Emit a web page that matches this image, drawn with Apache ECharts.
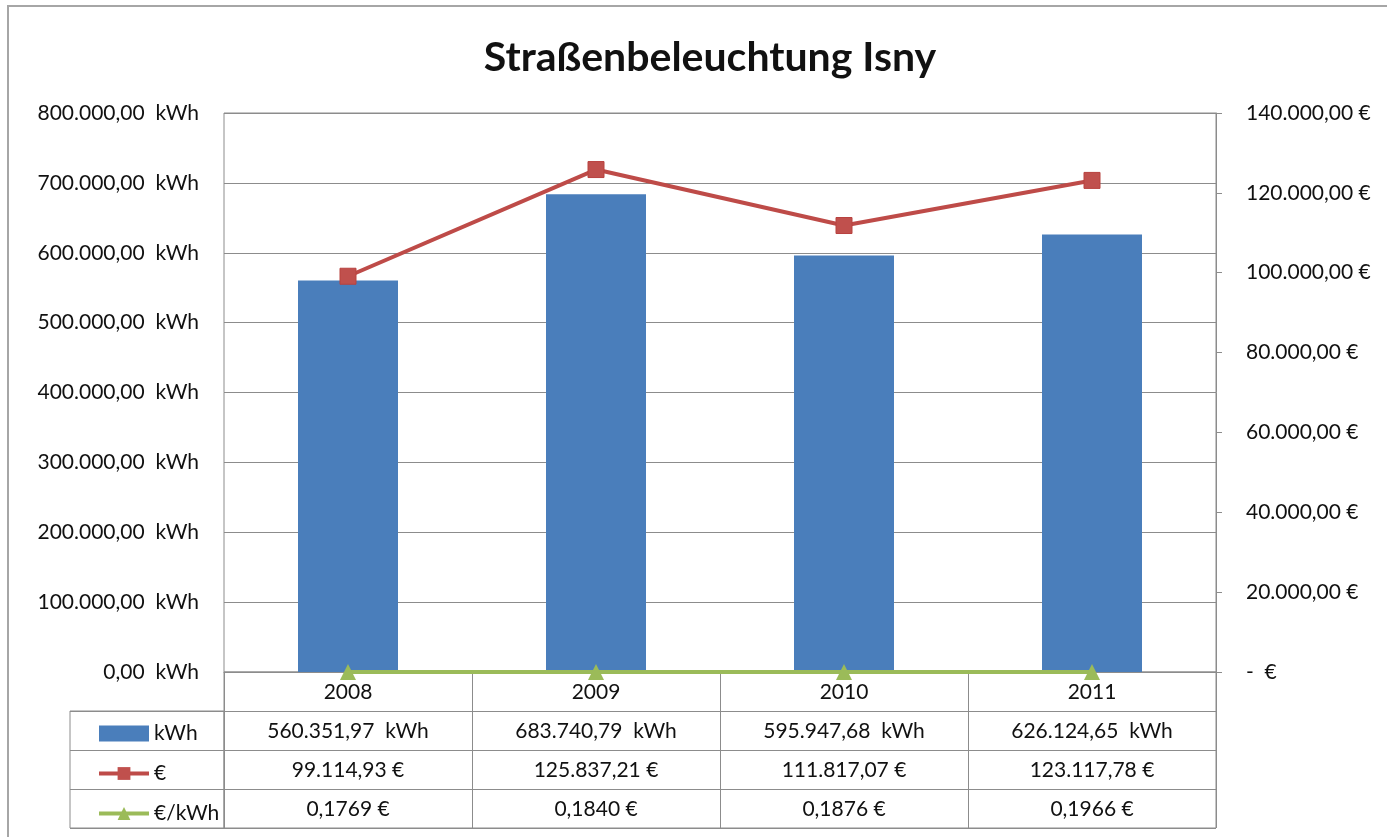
<!DOCTYPE html>
<html>
<head>
<meta charset="utf-8">
<title>Straßenbeleuchtung Isny</title>
<script src="https://cdn.jsdelivr.net/npm/echarts@6/dist/echarts.min.js"></script>
<style>
  html, body { margin: 0; padding: 0; background: #fff; }
  #chart { width: 1387px; height: 837px; }
</style>
</head>
<body>
<div id="chart"></div>
<script>
// data
const years = ['2008', '2009', '2010', '2011'];
const kwh = [560351.97, 683740.79, 595947.68, 626124.65];
const euro = [99114.93, 125837.21, 111817.07, 123117.78];
const euroPerKwh = [0.1769, 0.1840, 0.1876, 0.1966];
const tableRows = ['Jahr', 'kWh', '€', '€/kWh'];

// colors / fonts
const FONT = 'Lato';
const FS = 21;
const TXT = '#111';
const LINE = '#8c8c8c';

// german number format: 1.234,56
const fmtDe = (v, d) => {
    const parts = Math.abs(v).toFixed(d).split('.');
    const int = parts[0].replace(/\B(?=(\d{3})+(?!\d))/g, '.');
    return (v < 0 ? '-' : '') + int + (d > 0 ? ',' + parts[1] : '');
};

const chart = echarts.init(document.getElementById('chart'));

// one row of the data table, text drawn in the middle of each cell
const cellSeries = (name, values, fmt) => ({
    type: 'scatter',
    xAxisIndex: 1,
    yAxisIndex: 2,
    symbolSize: 0,
    silent: true,
    itemStyle: { color: '#fff', opacity: 1 },
    label: {
        show: true,
        position: 'inside',
        offset: [0, 0.5],
        color: TXT,
        opacity: 1,
        textBorderWidth: 0,
        fontSize: FS,
        fontFamily: FONT,
        formatter: p => fmt(p.value[2]),
    },
    emphasis: { disabled: true },
    data: values.map((v, i) => [i, name, v]),
});

chart.setOption({
    animation: false,
    textStyle: { fontFamily: FONT },
    title: {
        text: 'Straßenbeleuchtung Isny',
        left: 705,
        textAlign: 'center',
        top: 32,
        textStyle: { fontSize: 41, fontWeight: 'bold', color: '#111', fontFamily: FONT },
    },
    graphic: [
        {
            type: 'rect',
            shape: { x: 8, y: 6, width: 1500, height: 1000 },
            style: { fill: 'none', stroke: '#a6a6a6', lineWidth: 2 },
            silent: true,
            z: -10,
        },
    ],
    legend: {
        orient: 'vertical',
        left: 92,
        top: 718,
        itemWidth: 50,
        itemHeight: 16,
        itemGap: 19,
        itemStyle: { borderWidth: 0 },
        selectedMode: false,
        textStyle: { fontSize: FS, color: TXT, fontFamily: FONT, lineHeight: 20 },
        data: [
            { name: 'kWh', icon: 'rect' },
            { name: '€', lineStyle: { width: 4 } },
            { name: '€/kWh', lineStyle: { width: 4 } },
        ],
    },
    grid: [
        // plot area
        { left: 224, top: 113, width: 992, height: 559, show: true, borderColor: LINE, borderWidth: 1 },
        // data table
        { left: 224, top: 672, width: 992, height: 156, show: true, borderColor: LINE, borderWidth: 1 },
        // legend column
        { left: 70, top: 711, width: 154, height: 117, show: true, borderColor: LINE, borderWidth: 1 },
    ],
    xAxis: [
        {
            type: 'category',
            gridIndex: 0,
            data: years,
            boundaryGap: true,
            axisLine: { show: true, lineStyle: { color: LINE } },
            axisTick: { show: false },
            axisLabel: { color: TXT, fontSize: FS, fontFamily: FONT, margin: 10 },
        },
        {
            type: 'category',
            gridIndex: 1,
            data: years.map((y, i) => i),
            boundaryGap: true,
            axisLine: { show: false },
            axisTick: { show: false },
            axisLabel: { show: false },
            splitLine: { show: true, interval: 0, lineStyle: { color: LINE } },
        },
        {
            type: 'category',
            gridIndex: 2,
            data: ['x'],
            show: false,
        },
    ],
    yAxis: [
        {
            type: 'value',
            gridIndex: 0,
            min: 0,
            max: 800000,
            interval: 100000,
            axisLine: { show: false },
            axisTick: { show: false },
            splitLine: { show: true, lineStyle: { color: LINE } },
            axisLabel: {
                color: TXT,
                fontSize: FS,
                fontFamily: FONT,
                margin: 25,
                formatter: v => fmtDe(v, 2) + '  kWh',
            },
        },
        {
            type: 'value',
            gridIndex: 0,
            position: 'right',
            min: 0,
            max: 140000,
            interval: 20000,
            axisLine: { show: true, lineStyle: { color: LINE } },
            axisTick: { show: true, length: 6, lineStyle: { color: LINE } },
            splitLine: { show: false },
            axisLabel: {
                color: TXT,
                fontSize: FS,
                fontFamily: FONT,
                margin: 30,
                formatter: v => (v === 0 ? '-  €' : fmtDe(v, 2) + ' €'),
            },
        },
        {
            type: 'category',
            gridIndex: 1,
            data: tableRows,
            inverse: true,
            boundaryGap: true,
            axisLine: { show: false },
            axisTick: { show: false },
            axisLabel: { show: false },
            splitLine: { show: true, interval: 0, lineStyle: { color: LINE } },
        },
        {
            type: 'category',
            gridIndex: 2,
            data: tableRows.slice(1),
            inverse: true,
            boundaryGap: true,
            axisLine: { show: false },
            axisTick: { show: false },
            axisLabel: { show: false },
            splitLine: { show: true, interval: 0, lineStyle: { color: LINE } },
        },
    ],
    series: [
        {
            name: 'kWh',
            type: 'bar',
            xAxisIndex: 0,
            yAxisIndex: 0,
            barWidth: 100,
            itemStyle: { color: '#4a7ebb' },
            data: kwh,
        },
        {
            name: '€',
            type: 'line',
            xAxisIndex: 0,
            yAxisIndex: 1,
            symbol: 'rect',
            symbolSize: 16,
            lineStyle: { color: '#be4b48', width: 4 },
            itemStyle: { color: '#c0504d', borderColor: '#b8423f', borderWidth: 1 },
            data: euro,
            z: 3,
        },
        {
            name: '€/kWh',
            type: 'line',
            xAxisIndex: 0,
            yAxisIndex: 1,
            symbol: 'triangle',
            symbolSize: 16,
            lineStyle: { color: '#9bbb59', width: 4 },
            itemStyle: { color: '#9bbb59' },
            data: euroPerKwh,
            z: 4,
        },
        cellSeries('kWh', kwh, v => fmtDe(v, 2) + '  kWh'),
        cellSeries('€', euro, v => fmtDe(v, 2) + ' €'),
        cellSeries('€/kWh', euroPerKwh, v => fmtDe(v, 4) + ' €'),
    ],
});

window.addEventListener('resize', () => chart.resize());
</script>
</body>
</html>
